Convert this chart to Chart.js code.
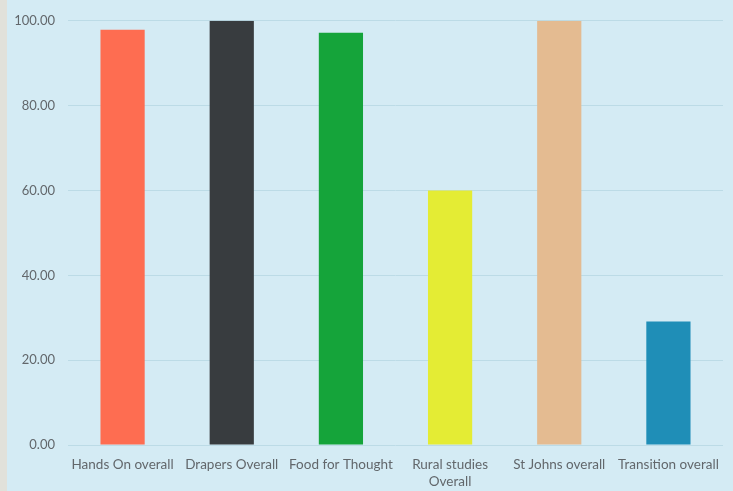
<!DOCTYPE html>
<html>
<head>
<meta charset="utf-8">
<script src="https://cdn.jsdelivr.net/npm/chart.js@4"></script>
<style>
  html, body { margin: 0; padding: 0; width: 733px; height: 491px; overflow: hidden; background: #d4ebf4; }
  #strip { position: absolute; left: 0; top: 0; width: 7px; height: 491px; background: #e1e1da; }
  #wrap { position: absolute; left: 0; top: 0; width: 733px; height: 491px; }
</style>
</head>
<body>
<div id="wrap"><canvas id="c" width="733" height="491"></canvas></div>
<div id="strip"></div>
<script>
const categories = ['Hands On overall', 'Drapers Overall', 'Food for Thought', ['Rural studies', 'Overall'], 'St Johns overall', 'Transition overall'];
const values = [97.9, 100, 97.2, 60.0, 100, 29.1];
const barColors = ['#fe6d51', '#383c3f', '#15a43a', '#e4ec34', '#e4bb91', '#1f8eb7'];
const yTicks = [0, 20, 40, 60, 80, 100];

const textColor = '#62676b';

new Chart(document.getElementById('c'), {
  type: 'bar',
  data: {
    labels: categories,
    datasets: [{
      data: values,
      backgroundColor: barColors,
      borderWidth: 0,
      barPercentage: 0.405,
      categoryPercentage: 1.0
    }]
  },
  options: {
    responsive: false,
    animation: false,
    layout: { padding: { top: 18.5, right: 10, left: 0, bottom: 0 } },
    plugins: { legend: { display: false }, tooltip: { enabled: false }, title: { display: false } },
    scales: {
      x: {
        grid: { display: false },
        border: { display: false },
        ticks: { color: textColor, font: { family: 'Lato', size: 13.5 }, padding: 4, maxRotation: 0, autoSkip: false },
        afterFit: s => { s.height = 46; }
      },
      y: {
        min: 0, max: 100,
        afterBuildTicks: s => { s.ticks = yTicks.map(v => ({ value: v })); },
        grid: { color: '#bcdbe6', lineWidth: 1, drawTicks: false },
        border: { display: false },
        ticks: { color: textColor, font: { family: 'Lato', size: 13 }, padding: 13, callback: v => Number(v).toFixed(2) },
        afterFit: s => { s.width = 68; }
      }
    }
  }
});
</script>
</body>
</html>
